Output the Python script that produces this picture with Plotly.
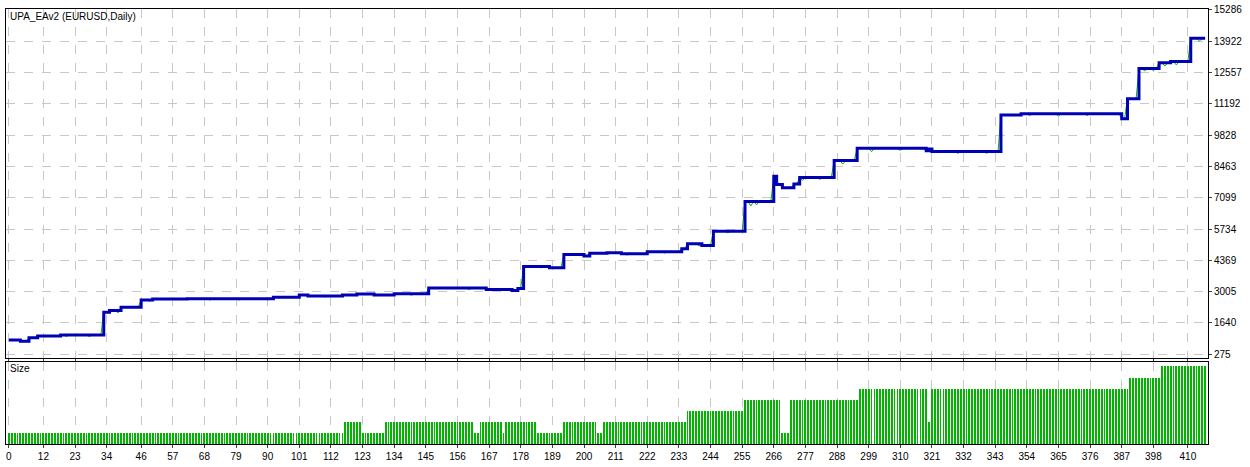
import numpy as np
import plotly.graph_objects as go
from plotly.subplots import make_subplots

N = 417

# balance steps: (trade index where level starts, balance)
bal_idx = [0, 4, 7, 10, 18, 33, 35, 39, 46, 50, 62, 92, 101, 104, 116, 121, 127, 134, 146, 166,
           175, 177, 179, 188, 193, 200, 202, 208, 213, 222, 234, 236, 241, 245, 256, 266, 267,
           269, 273, 275, 287, 295, 319, 320, 321, 345, 352, 387, 389, 393, 400, 404, 411]
bal_val = [900, 840, 990, 1070, 1110, 2110, 2180, 2330, 2640, 2680, 2700, 2760, 2860, 2820, 2860,
           2900, 2860, 2910, 3160, 3100, 3050, 3140, 4100, 4050, 4620, 4560, 4680, 4697, 4660, 4740,
           4880, 5090, 5020, 5635, 6940, 8035, 7680, 7540, 7700, 7980, 8720, 9260, 9150, 9230, 9115,
           10710, 10765, 10540, 11420, 12730, 12990, 13040, 14050]

# equity dips below balance: (trade index, depth)
dip_idx = [20, 28, 38, 49, 70, 80, 90, 110, 140, 160, 185, 215, 228, 240, 250, 258, 260, 276,
           282, 290, 300, 310, 330, 340, 355, 365, 375, 395, 398, 402, 406, 414]
dip_val = [60, 60, 100, 60, 60, 60, 60, 50, 60, 60, 60, 60, 50, 80, 60, 200, 150, 120, 80, 150,
           150, 100, 80, 80, 80, 100, 80, 100, 80, 150, 150, 120]

# lot size steps: (trade index where level starts, lots)
size_idx = [0, 117, 123, 131, 162, 164, 172, 173, 184, 193, 205, 207, 236, 256, 269, 272, 296,
            320, 321, 390, 401]
size_val = [0.1, 0.2, 0.1, 0.2, 0.1, 0.2, 0.1, 0.2, 0.1, 0.2, 0.1, 0.2, 0.3, 0.4, 0.1, 0.4, 0.5,
            0.2, 0.5, 0.6, 0.7]

x_ticks = [0, 12, 23, 34, 46, 57, 68, 79, 90, 101, 112, 123, 134, 145, 156, 167, 178, 189, 200,
           211, 222, 233, 244, 255, 266, 277, 288, 299, 310, 321, 332, 343, 354, 365, 376, 387,
           398, 410]
y_ticks = [275, 1640, 3005, 4369, 5734, 7099, 8463, 9828, 11192, 12557, 13922, 15286]

x = np.arange(N)
balance = np.array(bal_val)[np.searchsorted(bal_idx, x, side="right") - 1]
equity = balance.astype(float).copy()
for i, d in zip(dip_idx, dip_val):
    equity[i] -= d
size = np.array(size_val)[np.searchsorted(size_idx, x, side="right") - 1]

fig = make_subplots(rows=2, cols=1, shared_xaxes=True, vertical_spacing=0.009,
                    row_heights=[0.81, 0.19])
fig.add_trace(go.Scatter(x=x, y=equity, mode="lines", line=dict(color="#00b400", width=1),
                         showlegend=False), row=1, col=1)
fig.add_trace(go.Scatter(x=x, y=balance, mode="lines", line=dict(color="#0000b4", width=3, shape="hv"),
                         showlegend=False), row=1, col=1)
fig.add_trace(go.Bar(x=x, y=size, width=0.3, marker=dict(color="#00b400", line=dict(width=0)),
                     showlegend=False), row=2, col=1)

grid = dict(showgrid=True, gridcolor="#c8c8c8", griddash="dash", gridwidth=1,
            showline=True, linecolor="black", linewidth=1, mirror=True, zeroline=False)
fig.update_xaxes(range=[-1, 417], tickvals=x_ticks, ticktext=[str(t) for t in x_ticks],
                 ticks="outside", ticklen=3, **grid)
fig.update_xaxes(showticklabels=False, row=1, col=1)
fig.update_yaxes(side="right", range=[104, 15329], tickvals=y_ticks,
                 ticktext=[str(t) for t in y_ticks], ticks="outside", ticklen=3,
                 row=1, col=1, **grid)
fig.update_yaxes(side="right", range=[0, 0.74], showticklabels=False, row=2, col=1,
                 **{**grid, "showgrid": False})

fig.add_annotation(text="UPA_EAv2 (EURUSD,Daily)", xref="paper", yref="paper", x=0.002, y=1.0,
                   xanchor="left", yanchor="top", showarrow=False, font=dict(size=10, color="black"))
fig.add_annotation(text="Size", xref="paper", yref="paper", x=0.002, y=0.19,
                   xanchor="left", yanchor="top", showarrow=False, font=dict(size=10, color="black"))

fig.update_layout(width=1250, height=467, margin=dict(l=5, r=42, t=6, b=14),
                  plot_bgcolor="white", paper_bgcolor="white", bargap=0,
                  font=dict(family="Liberation Sans", size=10, color="black"))

fig.write_html("out.html", config={"displayModeBar": False},
               post_script="document.body.style.margin='0';document.body.style.overflow='hidden';")
